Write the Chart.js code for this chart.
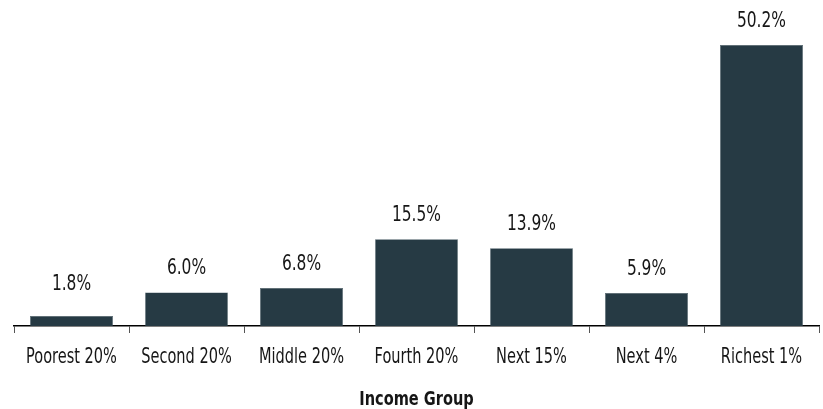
<!DOCTYPE html>
<html>
<head>
<meta charset="utf-8">
<script src="https://cdn.jsdelivr.net/npm/chart.js@4/dist/chart.umd.min.js"></script>
<style>
  html, body { margin: 0; padding: 0; background: #fff; }
  #wrap { width: 823px; height: 409px; }
</style>
</head>
<body>
<div id="wrap"><canvas id="chart"></canvas></div>
<script>
const categories = ['Poorest 20%', 'Second 20%', 'Middle 20%', 'Fourth 20%', 'Next 15%', 'Next 4%', 'Richest 1%'];
const shares = [1.8, 6.0, 6.8, 15.5, 13.9, 5.9, 50.2];
const axisTitle = 'Income Group';

const FONT = '"Liberation Sans Narrow", "DejaVu Sans Condensed", sans-serif';
const TEXT = '#161616';

// texto estreito: desenha com escala horizontal para imitar fonte condensada
function narrowText(ctx, txt, x, y, font, squeeze) {
    ctx.save();
    ctx.font = font;
    ctx.translate(x, y);
    ctx.scale(squeeze, 1);
    ctx.fillText(txt, 0, 0);
    ctx.restore();
}

const customText = {
    id: 'customText',
    afterDraw(chart) {
        const ctx = chart.ctx;
        const xs = chart.scales.x;
        const base = chart.chartArea.bottom;
        const meta = chart.getDatasetMeta(0);
        ctx.save();
        ctx.fillStyle = TEXT;
        ctx.textAlign = 'center';
        ctx.textBaseline = 'alphabetic';
        // valores acima das barras (barras muito baixas ganham altura mínima)
        meta.data.forEach((bar, i) => {
            const y = Math.min(bar.y - 18, base - 36);
            narrowText(ctx, shares[i].toFixed(1) + '%', bar.x, y, '22px ' + FONT, 0.78);
        });
        // rótulos das categorias
        categories.forEach((c, i) => {
            narrowText(ctx, c, xs.getPixelForTick(i), base + 37, '21px ' + FONT, 0.77);
        });
        // título do eixo
        const mid = (chart.chartArea.left + chart.chartArea.right) / 2;
        narrowText(ctx, axisTitle, mid, base + 79, 'bold 20px ' + FONT, 0.81);
        ctx.restore();
    }
};

new Chart(document.getElementById('chart'), {
    type: 'bar',
    data: {
        labels: categories,
        datasets: [{
            data: shares,
            backgroundColor: '#263a44',
            borderColor: '#3d515b',
            borderWidth: 0.5,
            categoryPercentage: 1,
            barPercentage: 0.72
        }]
    },
    options: {
        responsive: true, maintainAspectRatio: false,
        animation: false,
        layout: { padding: { left: 14, right: 4, top: 18, bottom: 0 } },
        plugins: { legend: { display: false }, tooltip: { enabled: false } },
        scales: {
            y: { display: false, min: 0, max: 55 },
            x: {
                offset: true,
                afterFit(scale) { scale.height = 83; },
                grid: { display: true, offset: true, drawOnChartArea: false, tickLength: 7, color: '#555', tickWidth: 1 },
                border: { display: true, color: '#000', width: 1.5 },
                ticks: { color: 'rgba(0,0,0,0)', font: { family: FONT, size: 16 }, maxRotation: 0 }
            }
        }
    },
    plugins: [customText]
});
</script>
</body>
</html>
